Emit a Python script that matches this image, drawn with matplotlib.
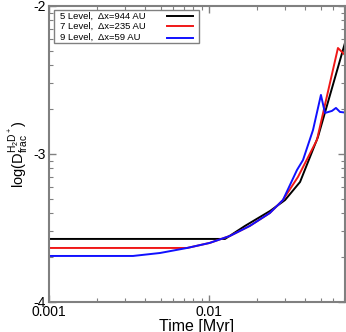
import numpy as np
import matplotlib
matplotlib.use('Agg')
import matplotlib.pyplot as plt
from matplotlib.ticker import LogLocator, FuncFormatter, NullFormatter
from matplotlib.patches import Rectangle
from matplotlib.lines import Line2D

plt.rcParams['font.family'] = ['Liberation Sans', 'DejaVu Sans']
plt.rcParams['mathtext.fontset'] = 'custom'
plt.rcParams['mathtext.rm'] = 'Liberation Sans'
plt.rcParams['mathtext.it'] = 'Liberation Sans:italic'

# time [Myr] and log(D_frac)
t_5 = [0.001, 0.0126, 0.0168, 0.0241, 0.0299, 0.0371, 0.048, 0.0708]
d_5 = [-3.574, -3.574, -3.486, -3.385, -3.311, -3.189, -2.885, -2.25]

t_7 = [0.001, 0.0073, 0.0101, 0.0135, 0.018, 0.024, 0.029, 0.036, 0.0473, 0.064, 0.0708]
d_7 = [-3.635, -3.635, -3.601, -3.554, -3.486, -3.399, -3.311, -3.155, -2.905, -2.284, -2.331]

t_9 = [0.001, 0.00335, 0.00494, 0.0073, 0.0101, 0.0135, 0.018, 0.024, 0.029,
       0.0355, 0.0387, 0.0447, 0.0501, 0.0531, 0.0587, 0.0622, 0.0659, 0.0708]
d_9 = [-3.689, -3.689, -3.669, -3.635, -3.601, -3.554, -3.486, -3.399, -3.311,
       -3.108, -3.041, -2.838, -2.601, -2.723, -2.709, -2.689, -2.716, -2.72]

labels = ['5 Level,  \u0394x=944 AU', '7 Level,  \u0394x=235 AU', '9 Level,  \u0394x=59 AU']
colors = ['black', '#f01818', '#1010ff']

fig = plt.figure(figsize=(3.46, 3.32), dpi=100)
ax = fig.add_axes([0.1416, 0.0904, 0.8554, 0.8916])

for t, d, lab, c in zip([t_5, t_7, t_9], [d_5, d_7, d_9], labels, colors):
    ax.plot(t, 10 ** np.array(d), color=c, lw=1.4, label=lab)

ax.set_xscale('log')
ax.set_yscale('log')
ax.set_xlim(0.001, 0.0708)
ax.set_ylim(1e-4, 1e-2)

ax.xaxis.set_major_locator(LogLocator(base=10, numticks=10))
ax.xaxis.set_minor_locator(LogLocator(base=10, subs=np.arange(2, 10), numticks=20))
ax.xaxis.set_major_formatter(FuncFormatter(lambda v, p: '%g' % v))
ax.xaxis.set_minor_formatter(NullFormatter())
ax.yaxis.set_major_locator(LogLocator(base=10, numticks=10))
ax.yaxis.set_minor_locator(LogLocator(base=10, subs=np.arange(2, 10), numticks=20))
ax.yaxis.set_major_formatter(FuncFormatter(lambda v, p: '%d' % round(np.log10(v))))
ax.yaxis.set_minor_formatter(NullFormatter())

ax.tick_params(which='both', direction='in', top=True, right=True, color='#808080',
               labelsize=10, pad=2)
ax.tick_params(which='major', length=5, width=1)
ax.tick_params(which='minor', length=3, width=0.8)
for s in ax.spines.values():
    s.set_color('#808080')
    s.set_linewidth(1.5)

ax.set_xlabel('Time [Myr]', fontsize=11.5, labelpad=0)
ax.set_ylabel(r'log(D$_{\rm frac}^{\rm H_2D^+}$)', fontsize=10.5, labelpad=2)

# legend: labels left-aligned, line samples on the right
ax.add_patch(Rectangle((0.017, 0.875), 0.49, 0.1115, transform=ax.transAxes,
                       facecolor='white', edgecolor='#808080', lw=1, zorder=5))
row_y = [0.966, 0.931, 0.893]
for yy, lab, c in zip(row_y, labels, colors):
    ax.text(0.037, yy, lab, transform=ax.transAxes, fontsize=6.8,
            va='center', ha='left', zorder=6)
    ax.add_line(Line2D([0.398, 0.486], [yy, yy], transform=ax.transAxes,
                       color=c, lw=1.4, zorder=6))

plt.savefig('out.png', dpi=100, facecolor='white')
